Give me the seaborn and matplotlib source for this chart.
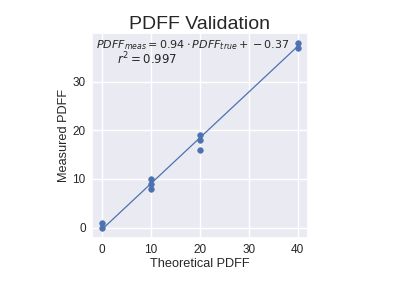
import matplotlib
matplotlib.use("Agg")
import matplotlib.pyplot as plt
import seaborn as sns
import numpy as np
import pandas as pd

sns.set_theme(style="darkgrid")
plt.rcParams["font.family"] = ["Liberation Sans", "DejaVu Sans"]
plt.rcParams["mathtext.fontset"] = "dejavusans"

theoretical = [0, 0, 10, 10, 10, 20, 20, 20, 40, 40]
measured = [0, 1, 8, 9, 10, 16, 18, 19, 37, 38]
slope = 0.94
intercept = -0.37
r2 = 0.997

df = pd.DataFrame({"Theoretical PDFF": theoretical, "Measured PDFF": measured})

fig = plt.figure(figsize=(4, 2.86), dpi=100)
ax = fig.add_axes([0.23, 0.1678, 0.5388, 0.7168])

sns.scatterplot(data=df, x="Theoretical PDFF", y="Measured PDFF", ax=ax,
                color="#4c72b0", s=16, edgecolor="#4c72b0", linewidth=0.5, zorder=3)
xl = np.array([min(theoretical), max(theoretical)])
ax.plot(xl, slope * xl + intercept, color="#4c72b0", lw=0.9, zorder=2)

ax.set_xlim(-2.05, 42.05)
ax.set_ylim(-2.15, 40.0)
ax.set_xticks([0, 10, 20, 30, 40])
ax.set_yticks([0, 10, 20, 30])
ax.tick_params(labelsize=8.5, length=0, pad=4.5)
ax.set_xlabel("Theoretical PDFF", fontsize=9.2, labelpad=1.5)
ax.set_ylabel("Measured PDFF", fontsize=9.2, labelpad=2)
ax.set_title("PDFF Validation", fontsize=14, pad=3)

ax.text(0.02, 0.941, r"$PDFF_{meas} = %.2f \cdot PDFF_{true} + %.2f$" % (slope, intercept),
        transform=ax.transAxes, fontsize=8, va="center", ha="left")
ax.text(0.115, 0.873, r"$r^2 = %.3f$" % r2,
        transform=ax.transAxes, fontsize=8.5, va="center", ha="left")

fig.savefig("out.png", dpi=100)
